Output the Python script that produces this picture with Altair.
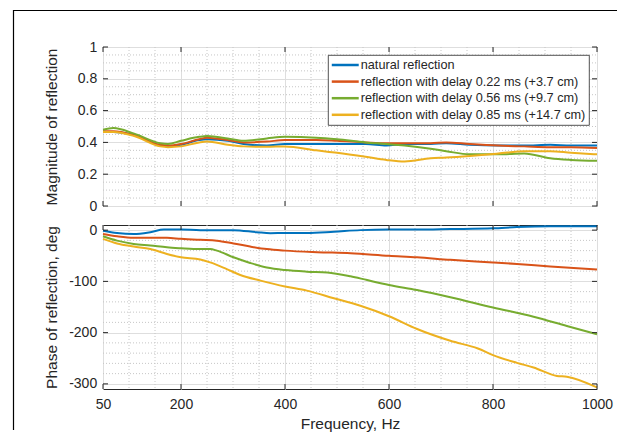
import altair as alt
import pandas as pd

SERIES = [
    "natural reflection",
    "reflection with delay 0.22 ms (+3.7 cm)",
    "reflection with delay 0.56 ms (+9.7 cm)",
    "reflection with delay 0.85 ms (+14.7 cm)",
]
COLORS = ["#0072BD", "#D95319", "#77AC30", "#EDB120"]

# ---- magnitude (top panel) ----
mag_freq = [50, 70, 110, 160, 175, 200, 235, 250, 290, 320, 365, 400, 460, 500,
            555, 595, 630, 680, 710, 755, 810, 860, 910, 950, 1000]
mag_natural = [0.465, 0.465, 0.445, 0.38, 0.375, 0.385, 0.415, 0.42, 0.41, 0.39, 0.38, 0.39, 0.39,
               0.39, 0.39, 0.38, 0.39, 0.39, 0.395, 0.385, 0.38, 0.38, 0.385, 0.38, 0.38]
mag_d022 = [0.47, 0.47, 0.445, 0.385, 0.38, 0.39, 0.42, 0.43, 0.415, 0.40, 0.405, 0.415, 0.415,
            0.41, 0.40, 0.395, 0.395, 0.395, 0.40, 0.39, 0.38, 0.375, 0.37, 0.37, 0.365]
mag_d056 = [0.48, 0.49, 0.455, 0.395, 0.39, 0.41, 0.435, 0.44, 0.425, 0.41, 0.425, 0.435, 0.43,
            0.42, 0.40, 0.39, 0.38, 0.36, 0.345, 0.325, 0.325, 0.33, 0.30, 0.29, 0.285]
mag_d085 = [0.465, 0.465, 0.44, 0.375, 0.37, 0.375, 0.40, 0.405, 0.385, 0.375, 0.372, 0.375, 0.35,
            0.335, 0.31, 0.29, 0.28, 0.30, 0.305, 0.315, 0.33, 0.345, 0.345, 0.335, 0.325]

# ---- phase (bottom panel) ----
ph_nat_freq = [50, 77, 109, 141, 167, 200, 237, 301, 346, 372, 400, 442, 494, 545, 600, 654,
               718, 800, 846, 910, 1000]
ph_nat = [-1, -5.5, -7.5, -4, 1, 1, 0, 0, -4, -6, -5.5, -5.5, -3, 0, 1, 1, 2, 3.5, 6, 7.5, 7.5]
ph_022_freq = [50, 77, 109, 173, 200, 237, 269, 301, 333, 365, 400, 462, 526, 600, 654, 718,
               800, 846, 910, 1000]
ph_022 = [-7.5, -12, -15, -15, -17, -19, -20.5, -26, -32, -37, -40, -43, -45, -50, -53, -58,
          -63, -66, -71, -77]
ph_056_freq = [50, 77, 109, 141, 173, 200, 224, 256, 269, 301, 333, 365, 400, 442, 481, 526,
               558, 600, 654, 718, 800, 878, 942, 1000]
ph_056 = [-12, -20.5, -27, -30, -33.5, -35.5, -37, -37, -40, -53, -64, -73, -78, -81, -82.5,
          -90, -97.5, -107, -117, -131, -151, -169, -187, -203]
ph_085_freq = [50, 77, 109, 141, 173, 200, 237, 256, 288, 314, 353, 400, 442, 494, 545, 600,
               654, 718, 771, 800, 846, 878, 923, 942, 1000]
ph_085 = [-17, -26, -32, -37, -46.5, -53, -57.5, -63, -76, -87.5, -98.5, -110, -118, -133,
          -147.5, -168, -193, -216, -231, -244, -259, -268, -284.5, -286, -307]

# ---- ticks / grid positions ----
x_ticks = [50, 200, 400, 600, 800, 1000]
x_minor = [100, 150, 250, 300, 350, 450, 500, 550, 650, 700, 750, 850, 900, 950]
mag_ticks = [0, 0.2, 0.4, 0.6, 0.8, 1]
mag_minor = [0.05, 0.1, 0.15, 0.25, 0.3, 0.35, 0.45, 0.5, 0.55, 0.65, 0.7, 0.75, 0.85, 0.9, 0.95]
ph_ticks = [-300, -200, -100, 0]
ph_minor = [-280, -260, -240, -220, -180, -160, -140, -120, -80, -60, -40, -20]

W = 494
H1 = 159
H2 = 164
FONT = "Liberation Sans, Arial, Helvetica, sans-serif"
TXT = "#262626"
GRID = "#dedede"
MINOR = "#c6c6c6"


def long_df(pairs):
    rows = []
    for name, fr, vals in pairs:
        for f, v in zip(fr, vals):
            rows.append({"series": name, "freq": f, "val": v})
    return pd.DataFrame(rows)


mag_df = long_df([
    (SERIES[0], mag_freq, mag_natural),
    (SERIES[1], mag_freq, mag_d022),
    (SERIES[2], mag_freq, mag_d056),
    (SERIES[3], mag_freq, mag_d085),
])
ph_df = long_df([
    (SERIES[0], ph_nat_freq, ph_nat),
    (SERIES[1], ph_022_freq, ph_022),
    (SERIES[2], ph_056_freq, ph_056),
    (SERIES[3], ph_085_freq, ph_085),
])


def panel(df, y_domain, y_ticks, y_minor, H, y_title, bottom, legend, y_fmt=None, y_expr=None,
          extra=()):
    xs = alt.Scale(domain=[50, 1000], nice=False, zero=False)
    ys = alt.Scale(domain=y_domain, nice=False, zero=False)

    xkw = dict(values=x_ticks, grid=True, gridColor=GRID, gridWidth=1, domain=False,
               ticks=False, labels=bottom, labelFlush=False, labelFontSize=14,
               labelPadding=8, labelColor=TXT, labelFont=FONT, format="d")
    if bottom:
        xkw.update(title="Frequency, Hz", titleX=W / 2, titleY=39.3,
                   titleBaseline="alphabetic", titleAlign="center", titleFontSize=15.5,
                   titleColor=TXT, titleFont=FONT, titleFontWeight="normal")
    else:
        xkw.update(title="")
    ykw = dict(values=y_ticks, grid=True, gridColor=GRID, gridWidth=1, domain=False,
               ticks=False, labelFontSize=14, labelPadding=6.3, labelColor=TXT,
               labelFont=FONT, title=y_title, titleX=-46.3, titleY=H / 2,
               titleBaseline="alphabetic", titleAlign="center", titleAngle=270,
               titleFontSize=15.5, titleColor=TXT, titleFont=FONT, titleFontWeight="normal")
    if y_fmt:
        ykw["format"] = y_fmt
    if y_expr:
        ykw["labelExpr"] = y_expr
    xax = alt.Axis(**xkw)
    yax = alt.Axis(**ykw)

    if legend:
        leg = alt.Legend(orient="none", legendX=225, legendY=8, title=None,
                         symbolType="M-2.45,0L2.45,0", symbolSize=121, symbolStrokeWidth=2.5,
                         symbolOffset=7.25, labelFont=FONT, labelFontSize=12.7,
                         labelColor=TXT, labelOffset=8.5, labelLimit=400, rowPadding=2.6,
                         padding=3, strokeColor=TXT, fillColor="white")
    else:
        leg = None

    vminor = alt.Chart(pd.DataFrame({"f": x_minor})).mark_rule(
        color=MINOR, strokeWidth=1, strokeDash=[1, 2]
    ).encode(x=alt.X("f:Q", scale=xs, axis=xax), y=alt.value(0), y2=alt.value(H))
    hminor = alt.Chart(pd.DataFrame({"v": y_minor})).mark_rule(
        color=MINOR, strokeWidth=1, strokeDash=[1, 2]
    ).encode(y=alt.Y("v:Q", scale=ys, axis=yax), x=alt.value(0), x2=alt.value(W))

    lines = alt.Chart(df).mark_line(strokeWidth=2, interpolate="monotone").encode(
        x=alt.X("freq:Q", scale=xs, axis=xax),
        y=alt.Y("val:Q", scale=ys, axis=yax),
        color=alt.Color("series:N", scale=alt.Scale(domain=SERIES, range=COLORS),
                        sort=SERIES, legend=leg),
        order=alt.Order("freq:Q"),
    )

    tdf = pd.DataFrame({"f": x_ticks})
    vdf = pd.DataFrame({"v": y_ticks})
    tick_style = dict(color=TXT, strokeWidth=1)
    t_top = alt.Chart(tdf).mark_rule(**tick_style).encode(
        x=alt.X("f:Q", scale=xs, axis=xax), y=alt.value(0), y2=alt.value(5))
    t_bot = alt.Chart(tdf).mark_rule(**tick_style).encode(
        x=alt.X("f:Q", scale=xs, axis=xax), y=alt.value(H - 5), y2=alt.value(H))
    t_left = alt.Chart(vdf).mark_rule(**tick_style).encode(
        y=alt.Y("v:Q", scale=ys, axis=yax), x=alt.value(0), x2=alt.value(5))
    t_right = alt.Chart(vdf).mark_rule(**tick_style).encode(
        y=alt.Y("v:Q", scale=ys, axis=yax), x=alt.value(W - 5), x2=alt.value(W))

    layers = [vminor, hminor, lines, t_top, t_bot, t_left, t_right] + list(extra)
    return alt.layer(*layers).properties(width=W, height=H)


one = pd.DataFrame({"k": [0]})
frame_v = alt.Chart(one).mark_rule(color="black", strokeWidth=1.2).encode(
    x=alt.value(-89.5), y=alt.value(-37), y2=alt.value(383))
frame_h = alt.Chart(one).mark_rule(color="black", strokeWidth=1.2).encode(
    x=alt.value(-90), x2=alt.value(514), y=alt.value(-36.5))

top = panel(mag_df, [0, 1], mag_ticks, mag_minor, H1, "Magnitude of reflection",
            bottom=False, legend=True, y_fmt=".1~f", extra=(frame_v, frame_h))
bottom = panel(ph_df, [-310, 10], ph_ticks, ph_minor, H2, "Phase of reflection, deg",
               bottom=True, legend=False,
               y_expr="datum.value < 0 ? '-' + abs(datum.value) : '' + datum.value")

chart = alt.vconcat(top, bottom, spacing=19, bounds="flush").resolve_scale(
    color="independent"
).properties(
    padding={"left": 3, "top": 0, "right": 0, "bottom": 0},
    background="white",
).configure_view(
    stroke=TXT, strokeWidth=1
).configure_legend(
    strokeWidth=0.8
)

chart.save("out.html", embed_options={"renderer": "svg", "actions": False})
